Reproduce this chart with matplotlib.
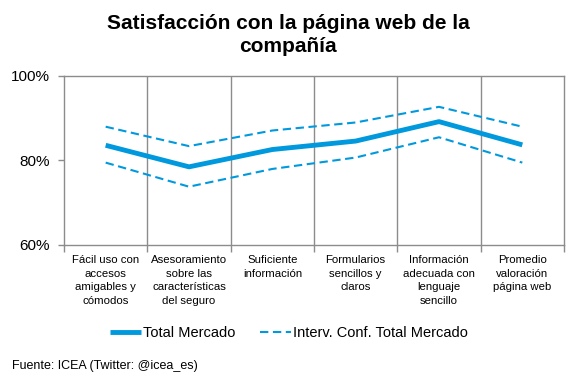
import matplotlib
matplotlib.use("Agg")
import matplotlib.pyplot as plt
from matplotlib.ticker import FuncFormatter, FixedLocator

plt.rcParams['font.family'] = ['Liberation Sans', 'DejaVu Sans']

categories = ["Fácil uso con\naccesos\namigables y\ncómodos",
              "Asesoramiento\nsobre las\ncaracterísticas\ndel seguro",
              "Suficiente\ninformación",
              "Formularios\nsencillos y\nclaros",
              "Información\nadecuada con\nlenguaje\nsencillo",
              "Promedio\nvaloración\npágina web"]
total = [83.6, 78.5, 82.6, 84.6, 89.2, 83.7]
upper = [88.0, 83.4, 87.1, 89.0, 92.7, 88.0]
lower = [79.5, 73.8, 78.0, 80.7, 85.5, 79.5]
yticks = [60, 80, 100]

blue = "#0099DD"
grid = "#8C8C8C"

fig = plt.figure(figsize=(5.68, 3.78), dpi=100)
ax = fig.add_axes([64/568, 1-245/378, 500/568, 169/378])

x = list(range(len(categories)))
ax.plot(x, total, color=blue, lw=3.5, solid_capstyle='butt', label="Total Mercado")
ax.plot(x, upper, color=blue, lw=1.5, ls=(0, (4, 2.2)), label="Interv. Conf. Total Mercado")
ax.plot(x, lower, color=blue, lw=1.5, ls=(0, (4, 2.2)))

ax.set_xlim(-0.5, len(categories) - 0.5)
ax.set_ylim(60, 100)
ax.set_yticks(yticks)
ax.yaxis.set_major_formatter(FuncFormatter(lambda v, p: f"{int(v)}%"))
ax.tick_params(axis='y', labelsize=11, length=4, color=grid, width=1, pad=6)

# category separators
bounds = [i - 0.5 for i in range(len(categories) + 1)]
ax.xaxis.set_major_locator(FixedLocator(bounds))
ax.set_xticklabels([])
ax.tick_params(axis='x', length=5, color=grid, width=1)
for b in bounds[1:-1]:
    ax.axvline(b, color=grid, lw=1, zorder=0)
for i, c in enumerate(categories):
    ax.text(i, 57.6, c, ha='center', va='top', fontsize=8.2, linespacing=1.45)

for s in ax.spines.values():
    s.set_color(grid)
    s.set_linewidth(1)

fig.text(288/568, 1-35/378, "Satisfacción con la página web de la\ncompañía",
         ha='center', va='center', fontsize=15, fontweight='bold', linespacing=1.25)

leg = fig.legend(loc='center', bbox_to_anchor=(289/568, 1-333/378), ncol=2, frameon=False,
                 fontsize=10.5, handlelength=2.1, handletextpad=0.15, columnspacing=1.7)

fig.text(12/568, 1-366/378, "Fuente: ICEA (Twitter: @icea_es)", ha='left', va='center', fontsize=9)

fig.savefig("out.png", dpi=100)
